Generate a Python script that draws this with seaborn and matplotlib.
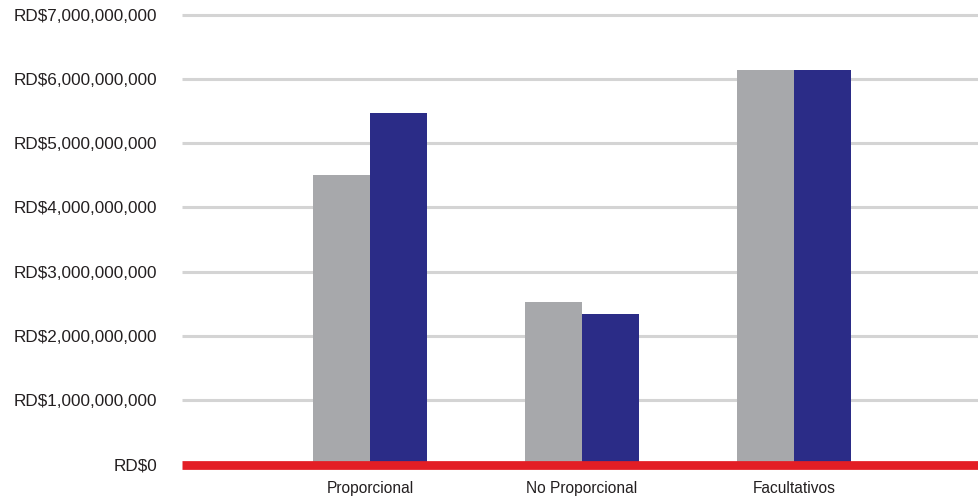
import matplotlib
matplotlib.use("Agg")
import matplotlib.pyplot as plt
import seaborn as sns
import pandas as pd
from matplotlib.ticker import FuncFormatter

categories = ["Proporcional", "No Proporcional", "Facultativos"]
series_names = ["Periodo anterior", "Periodo actual"]
values_prev = [4.50e9, 2.53e9, 6.14e9]
values_curr = [5.47e9, 2.34e9, 6.14e9]
yticks = [0, 1e9, 2e9, 3e9, 4e9, 5e9, 6e9, 7e9]

df = pd.DataFrame({
    "categoria": categories * 2,
    "serie": [series_names[0]] * 3 + [series_names[1]] * 3,
    "valor": values_prev + values_curr,
})

sns.set_theme(style="white")
plt.rcParams["font.family"] = ["Liberation Sans", "DejaVu Sans"]

W, H = 979, 499
fig = plt.figure(figsize=(W / 100, H / 100), dpi=100)
px_per = (464.5 - 14.7) / 7e9
ytop = 7.05e9
ax_top_px = 464.5 - ytop * px_per
ax = fig.add_axes([182 / W, (H - 464.5) / H, (W - 182) / W, (464.5 - ax_top_px) / H])

sns.barplot(data=df, x="categoria", y="valor", hue="serie",
            palette=["#a7a8ab", "#2b2c87"], width=0.538, gap=0,
            saturation=1, ax=ax, legend=False, zorder=2,
            linewidth=0, edgecolor="none")

ax.set_ylim(0, ytop)
ax.set_xlim(-0.887, 2.873)
ax.set_yticks(yticks)
ax.yaxis.set_major_formatter(FuncFormatter(lambda v, p: "RD$" + format(int(round(v)), ",")))
for t in yticks[1:]:
    ax.axhline(t, color="#d4d4d4", lw=2.2, zorder=1, clip_on=False,
               solid_capstyle="butt")
ax.axhline(0, color="#e31e25", lw=6.3, zorder=3, clip_on=False,
           solid_capstyle="butt")

for s in ax.spines.values():
    s.set_visible(False)
ax.set_xlabel("")
ax.set_ylabel("")
ax.tick_params(axis="y", length=0, pad=18, labelsize=12.3, labelcolor="#231f20")
ax.tick_params(axis="x", length=0, pad=12, labelsize=11.2, labelcolor="#231f20")
ax.grid(False)

fig.savefig("out.png", dpi=100)
